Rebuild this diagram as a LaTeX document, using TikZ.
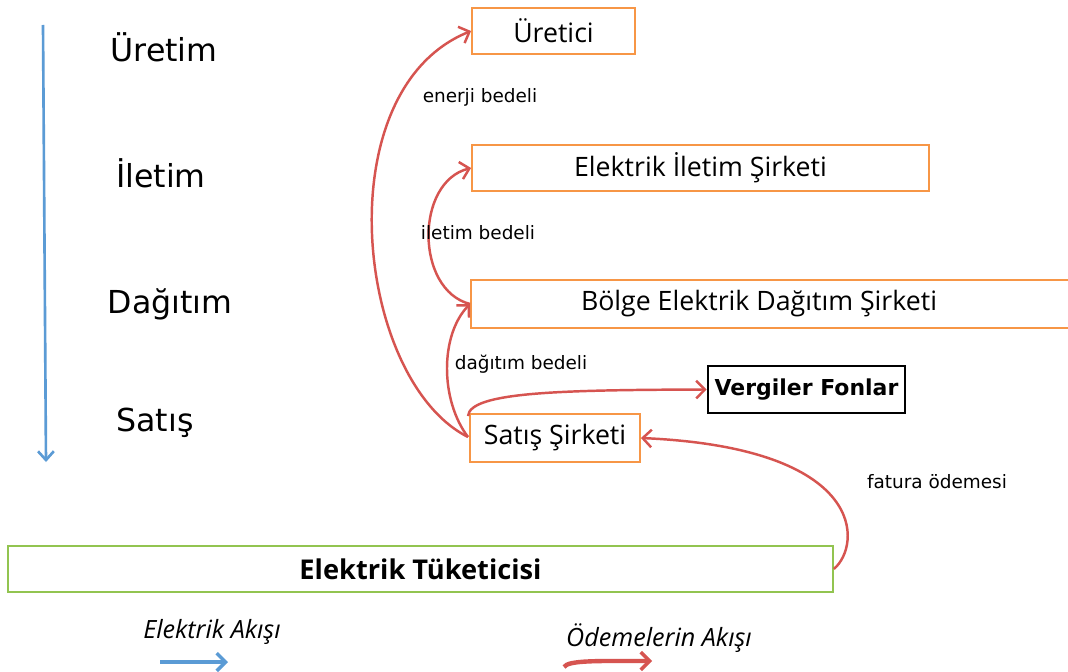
\documentclass[tikz,border=0pt]{standalone}
\usepackage{fontspec}
\setmainfont{DejaVu Sans}
\newfontfamily\boxfont{Open Sans}
\usetikzlibrary{arrows.meta}
\definecolor{orng}{RGB}{247,150,70}
\definecolor{redc}{RGB}{214,84,80}
\definecolor{bluec}{RGB}{91,155,213}
\definecolor{grn}{RGB}{146,196,80}
\begin{document}
\begin{tikzpicture}[x=0.02cm,y=-0.02cm,
  heading/.style={font=\fontsize{18}{20}\selectfont, inner sep=0pt},
  obox/.style={draw=orng, line width=1.1pt, minimum height=0.92cm, inner sep=0pt, font=\boxfont\fontsize{15.2}{17}\selectfont},
  obline/.style={draw=orng, line width=1.1pt},
  lab/.style={font=\fontsize{10.5}{12}\selectfont, inner sep=0pt},
  pay/.style={draw=redc, line width=1.4pt, -{Straight Barb[length=5pt,width=10pt,line width=1.4pt]}},
  flow/.style={draw=bluec, line width=1.5pt, -{Straight Barb[length=5pt,width=9pt,line width=1.5pt]}},
  leg/.style={font=\boxfont\itshape\fontsize{14.3}{16}\selectfont, inner sep=0pt}]
\clip (0,0) rectangle (1068,672);
\fill[white] (0,0) rectangle (1068,672);

% stage headings
\node[heading] (h1) at (164,47) {Üretim};
\node[heading] (h2) at (161,173) {İletim};
\node[heading] (h3) at (170,304) {Dağıtım};
\node[heading] (h4) at (155,423) {Satış};
\coordinate (ftop) at (43,25);
\coordinate (fbot) at (46,462);
\draw[flow] (ftop) -- (fbot);

% boxes
\node[obox, minimum width=3.26cm] (ure) at (553.5,31) {Üretici};
\node[obox, minimum width=9.14cm] (ilet) at (700.5,168) {Elektrik İletim Şirketi};
\node[obox, draw=none, minimum width=11.48cm] (bolge) at (759,304) {Bölge Elektrik Dağıtım Şirketi};
\coordinate (edgeR) at (1075,0);
\draw[obline] (edgeR |- bolge.north) -- (bolge.north west) -- (bolge.south west) -- (edgeR |- bolge.south);
\node[obox, minimum width=3.40cm, minimum height=0.96cm] (satis) at (555,438) {Satış Şirketi};
\node[draw=black, line width=1.5pt, minimum width=3.94cm, minimum height=0.94cm, inner sep=0pt,
      font=\bfseries\fontsize{12.5}{14}\selectfont] (verg) at (806.5,389.5) {Vergiler Fonlar};
\node[draw=grn, line width=1.1pt, minimum width=16.5cm, minimum height=0.92cm, inner sep=0pt,
      font=\boxfont\bfseries\fontsize{15.5}{17}\selectfont] (tuk) at (420.5,569) {Elektrik Tüketicisi};

% payment flows
\coordinate (sL) at (468,437);
\coordinate (bL) at (470,304);
\coordinate (sT) at (468,416);
\draw[pay] (sL) .. controls (355,380) and (325,90) .. (ure.west);
\draw[pay] (sL) .. controls (440,400) and (440,335) .. (bL);
\draw[pay] (bL) .. controls (415,290) and (415,182) .. (ilet.west);
\draw[pay] (sT) .. controls (470,392) and (560,390) .. (verg.west);
\draw[pay] (tuk.east) .. controls (862,545) and (868,448) .. (satis.east);

\node[lab] (l1) at (480,97) {enerji bedeli};
\node[lab] (l2) at (478,233) {iletim bedeli};
\node[lab] (l3) at (521,364) {dağıtım bedeli};
\node[lab] (l4) at (937,482) {fatura ödemesi};

% legend
\node[leg] (lg1) at (212,632) {Elektrik Akışı};
\node[leg] (lg2) at (659,638) {Ödemelerin Akışı};
\coordinate (b1) at (160,662);
\coordinate (b2) at (228,662);
\draw[draw=bluec, line width=2.5pt, -{Straight Barb[length=5pt,width=10pt,line width=2pt]}] (b1) -- (b2);
\coordinate (r1) at (564,667);
\coordinate (r2) at (652,661);
\draw[draw=redc, line width=2.5pt, -{Straight Barb[length=5pt,width=10pt,line width=2pt]}] (r1) .. controls (568,660) and (600,661) .. (r2);
\end{tikzpicture}
\end{document}
